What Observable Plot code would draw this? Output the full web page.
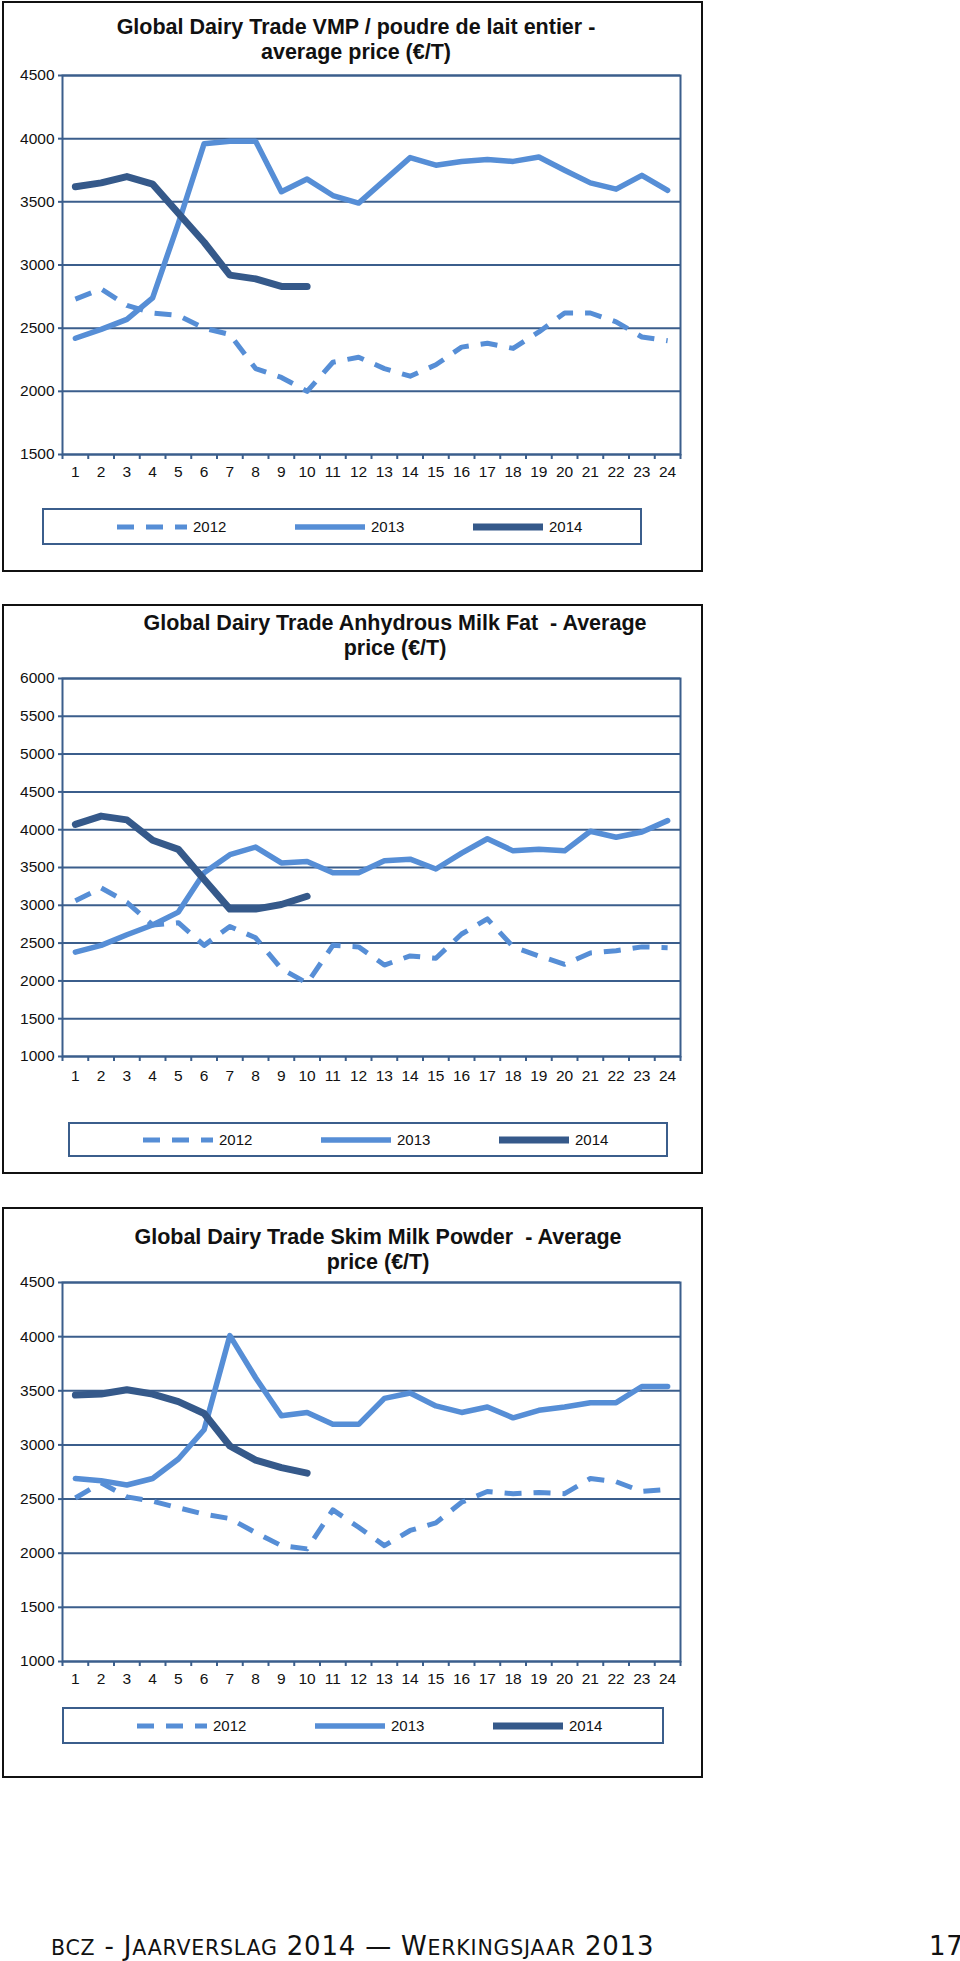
<!DOCTYPE html>
<html>
<head>
<meta charset="utf-8">
<script src="https://cdn.jsdelivr.net/npm/d3@7"></script>
<script src="https://cdn.jsdelivr.net/npm/@observablehq/plot@0.6"></script>
<style>
  html, body { margin: 0; padding: 0; background: #fff; }
  body { position: relative; width: 960px; height: 1961px; overflow: hidden; font-family: "Liberation Sans", Arial, sans-serif; color: #111; }
  .box { position: absolute; left: 2px; width: 701px; border: 2px solid #111; box-sizing: border-box; }
  .title { position: absolute; width: 700px; text-align: center; font-weight: bold; font-size: 21.5px; line-height: 25px; white-space: nowrap; color: #111; }
  .legend { position: absolute; border: 2px solid #3B5E8C; box-sizing: border-box; background: #fff; }
  .legend span { position: absolute; font-size: 15px; color: #111; }
  .legend svg { position: absolute; overflow: visible; }
  .footer { position: absolute; font-family: "DejaVu Sans", Verdana, sans-serif; font-size: 26px; line-height: 24px; color: #111; white-space: nowrap; letter-spacing: 0.8px; }
  .footer .sc { font-size: 20.5px; }
</style>
</head>
<body>
<script>
// ---- categories and tick labels ----
const weeks = [1,2,3,4,5,6,7,8,9,10,11,12,13,14,15,16,17,18,19,20,21,22,23,24];
const years = ["2012", "2013", "2014"];
const yTicksVMP = [1500, 2000, 2500, 3000, 3500, 4000, 4500];
const yTicksAMF = [1000, 1500, 2000, 2500, 3000, 3500, 4000, 4500, 5000, 5500, 6000];
const yTicksSMP = [1000, 1500, 2000, 2500, 3000, 3500, 4000, 4500];

// ---- Global Dairy Trade VMP (whole milk powder) ----
const vmp2012 = [2730, 2810, 2680, 2620, 2600, 2500, 2450, 2180, 2110, 2000, 2230, 2270, 2180, 2120, 2210, 2350, 2380, 2340, 2470, 2620, 2620, 2550, 2430, 2400];
const vmp2013 = [2420, 2490, 2570, 2740, 3330, 3960, 3980, 3980, 3580, 3680, 3550, 3490, 3670, 3850, 3790, 3820, 3835, 3820, 3855, 3750, 3650, 3600, 3710, 3590];
const vmp2014 = [3620, 3650, 3700, 3640, 3410, 3180, 2920, 2890, 2830, 2830];

// ---- Global Dairy Trade Anhydrous Milk Fat ----
const amf2012 = [3060, 3230, 3040, 2740, 2770, 2470, 2720, 2570, 2160, 1970, 2470, 2450, 2210, 2330, 2300, 2620, 2820, 2450, 2330, 2220, 2370, 2400, 2450, 2440];
const amf2013 = [2380, 2470, 2610, 2740, 2910, 3430, 3670, 3770, 3560, 3580, 3430, 3430, 3590, 3610, 3480, 3690, 3880, 3720, 3740, 3720, 3980, 3900, 3970, 4120];
const amf2014 = [4070, 4180, 4130, 3860, 3740, 3340, 2950, 2950, 3010, 3120];

// ---- Global Dairy Trade Skim Milk Powder ----
const smp2012 = [2510, 2650, 2520, 2480, 2420, 2360, 2320, 2190, 2070, 2040, 2400, 2240, 2070, 2210, 2280, 2470, 2570, 2550, 2560, 2550, 2690, 2660, 2570, 2590];
const smp2013 = [2690, 2670, 2630, 2690, 2870, 3140, 4010, 3620, 3270, 3300, 3190, 3190, 3430, 3480, 3360, 3300, 3350, 3250, 3320, 3350, 3390, 3390, 3540, 3540];
const smp2014 = [3460, 3470, 3510, 3470, 3400, 3290, 2990, 2860, 2790, 2740];

// ---- styling ----
const GRID = "#3B5E8C";
const LIGHT = "#568ED6";
const DARK = "#35598A";
const seriesStyle = {
  "2012": {stroke: LIGHT, strokeWidth: 5, dash: "17,12"},
  "2013": {stroke: LIGHT, strokeWidth: 5.5, dash: null},
  "2014": {stroke: DARK, strokeWidth: 7, dash: null}
};

function makeChart(cfg) {
  const {boxTop, boxHeight, plotTop, plotBottom, yDomain, yTicks, series, title, titleCx, titleTop, legend} = cfg;

  const box = document.createElement("div");
  box.className = "box";
  box.style.top = boxTop + "px";
  box.style.height = boxHeight + "px";
  document.body.appendChild(box);

  const t = document.createElement("div");
  t.className = "title";
  t.style.left = (titleCx - 350) + "px";
  t.style.top = titleTop + "px";
  t.innerHTML = title[0] + "<br>" + title[1];
  document.body.appendChild(t);

  const boundaries = weeks.map(w => w - 0.5).concat([weeks[weeks.length - 1] + 0.5]);
  const lineMarks = years.map((yr, k) => {
    const vals = series[k];
    const rows = vals.map((v, i) => ({week: weeks[i], value: v, year: yr}));
    const st = seriesStyle[yr];
    return Plot.line(rows, {
      x: "week", y: "value", stroke: st.stroke, strokeWidth: st.strokeWidth,
      strokeDasharray: st.dash || undefined, strokeLinejoin: "round",
      strokeLinecap: st.dash ? "butt" : "round"
    });
  });

  const svgTop = boxTop;
  const marginTop = plotTop - svgTop;
  const svg = Plot.plot({
    width: 700,
    height: (plotBottom - svgTop) + 40,
    marginLeft: 62,
    marginRight: 20,
    marginTop: marginTop,
    marginBottom: 40,
    style: {fontFamily: "Liberation Sans, Arial, sans-serif", fontSize: "15.5px", color: "#111", background: "transparent", overflow: "visible"},
    x: {domain: [0.5, 24.5]},
    y: {domain: yDomain},
    marks: [
      Plot.gridY(yTicks, {stroke: GRID, strokeOpacity: 1, strokeWidth: 2}),
      Plot.frame({stroke: GRID, strokeWidth: 2}),
      Plot.axisY(yTicks, {tickSize: 4, tickPadding: 4, stroke: GRID, strokeWidth: 2, fill: "#111", fontSize: 15.5, label: null, tickFormat: d => String(d)}),
      Plot.axisX(boundaries, {tickSize: 5, stroke: GRID, strokeWidth: 2, tickFormat: () => "", label: null}),
      Plot.axisX(weeks, {tickSize: 0, tickPadding: cfg.xPad, fill: "#111", fontSize: 15.5, label: null, tickFormat: d => String(d)}),
      ...lineMarks
    ]
  });
  svg.style.position = "absolute";
  svg.style.left = "0px";
  svg.style.top = svgTop + "px";
  document.body.appendChild(svg);

  // legend
  const lg = document.createElement("div");
  lg.className = "legend";
  lg.style.left = legend.left + "px";
  lg.style.top = legend.top + "px";
  lg.style.width = legend.width + "px";
  lg.style.height = legend.height + "px";
  const innerH = legend.height - 4;
  years.forEach((yr, k) => {
    const st = seriesStyle[yr];
    const x0 = 73 + k * 178;
    const s = document.createElementNS("http://www.w3.org/2000/svg", "svg");
    s.setAttribute("width", 70);
    s.setAttribute("height", 10);
    s.style.left = x0 + "px";
    s.style.top = (innerH / 2 - 5) + "px";
    const ln = document.createElementNS("http://www.w3.org/2000/svg", "line");
    ln.setAttribute("x1", 0); ln.setAttribute("x2", 70);
    ln.setAttribute("y1", 5); ln.setAttribute("y2", 5);
    ln.setAttribute("stroke", st.stroke);
    ln.setAttribute("stroke-width", st.strokeWidth);
    if (st.dash) ln.setAttribute("stroke-dasharray", st.dash);
    s.appendChild(ln);
    lg.appendChild(s);
    const sp = document.createElement("span");
    sp.textContent = yr;
    sp.style.left = (x0 + 76) + "px";
    sp.style.top = (innerH / 2 - 9) + "px";
    sp.style.lineHeight = "18px";
    lg.appendChild(sp);
  });
  document.body.appendChild(lg);
}

makeChart({
  boxTop: 1, boxHeight: 571, plotTop: 75, plotBottom: 454, xPad: 11,
  yDomain: [1500, 4500], yTicks: yTicksVMP,
  series: [vmp2012, vmp2013, vmp2014],
  title: ["Global Dairy Trade VMP / poudre de lait entier -", "average price (€/T)"],
  titleCx: 356, titleTop: 15,
  legend: {left: 42, top: 508, width: 600, height: 37}
});

makeChart({
  boxTop: 604, boxHeight: 570, plotTop: 678, plotBottom: 1056, xPad: 13,
  yDomain: [1000, 6000], yTicks: yTicksAMF,
  series: [amf2012, amf2013, amf2014],
  title: ["Global Dairy Trade Anhydrous Milk Fat&nbsp; - Average", "price (€/T)"],
  titleCx: 395, titleTop: 611,
  legend: {left: 68, top: 1122, width: 600, height: 35}
});

makeChart({
  boxTop: 1207, boxHeight: 571, plotTop: 1282, plotBottom: 1661, xPad: 11,
  yDomain: [1000, 4500], yTicks: yTicksSMP,
  series: [smp2012, smp2013, smp2014],
  title: ["Global Dairy Trade Skim Milk Powder&nbsp; - Average", "price (€/T)"],
  titleCx: 378, titleTop: 1225,
  legend: {left: 62, top: 1707, width: 602, height: 37}
});

// footer (small caps built from two sizes)
const f1 = document.createElement("div");
f1.className = "footer";
f1.style.left = "51px";
f1.style.top = "1934px";
f1.innerHTML = '<span class="sc">BCZ</span> - J<span class="sc">AARVERSLAG</span> 2014 \u2014 W<span class="sc">ERKINGSJAAR</span> 2013';
document.body.appendChild(f1);
const f2 = document.createElement("div");
f2.className = "footer";
f2.style.left = "929px";
f2.style.top = "1934px";
f2.textContent = "17";
document.body.appendChild(f2);
</script>
</body>
</html>
